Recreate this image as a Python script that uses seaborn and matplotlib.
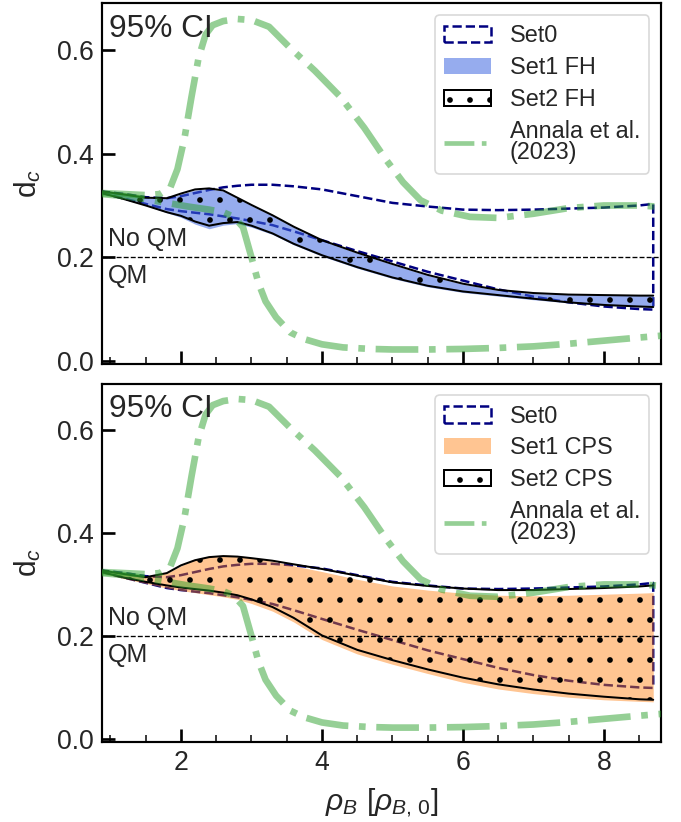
import numpy as np
import pandas as pd
import seaborn as sns
import matplotlib
matplotlib.use("Agg")
import matplotlib.pyplot as plt
from matplotlib.patches import Patch
from matplotlib.lines import Line2D
from matplotlib.ticker import MultipleLocator

# ---------------- data ----------------
rho = [0.88, 1.2, 1.5, 1.8, 2.0, 2.2, 2.4, 2.6, 2.8, 3.0, 3.3, 3.6, 4.0,
       4.5, 5.0, 5.5, 6.0, 6.5, 7.0, 7.5, 8.0, 8.5, 8.7]

# Set0 95% band
set0_lo = [0.324, 0.313, 0.303, 0.293, 0.289, 0.286, 0.283, 0.279, 0.275, 0.270, 0.262, 0.250, 0.233,
           0.212, 0.192, 0.172, 0.155, 0.138, 0.124, 0.113, 0.105, 0.100, 0.099]
set0_hi = [0.327, 0.322, 0.316, 0.314, 0.318, 0.324, 0.330, 0.335, 0.338, 0.340, 0.340, 0.337, 0.331,
           0.318, 0.305, 0.298, 0.292, 0.291, 0.292, 0.294, 0.296, 0.300, 0.303]

# FH bands
fh1_lo = [0.324, 0.312, 0.300, 0.286, 0.277, 0.264, 0.255, 0.262, 0.265, 0.258, 0.244, 0.224, 0.202,
          0.179, 0.159, 0.143, 0.132, 0.125, 0.118, 0.112, 0.107, 0.104, 0.103]
fh1_hi = [0.327, 0.321, 0.315, 0.313, 0.322, 0.330, 0.332, 0.328, 0.314, 0.300, 0.280, 0.258, 0.232,
          0.208, 0.186, 0.165, 0.148, 0.136, 0.130, 0.128, 0.127, 0.126, 0.126]
fh2_lo = [0.324, 0.312, 0.300, 0.287, 0.280, 0.269, 0.261, 0.266, 0.268, 0.261, 0.246, 0.226, 0.204,
          0.181, 0.161, 0.145, 0.134, 0.127, 0.120, 0.113, 0.108, 0.105, 0.104]
fh2_hi = [0.327, 0.321, 0.315, 0.314, 0.323, 0.331, 0.333, 0.329, 0.315, 0.301, 0.281, 0.259, 0.233,
          0.209, 0.187, 0.166, 0.149, 0.137, 0.131, 0.128, 0.127, 0.126, 0.126]

# CPS bands
cps1_lo = [0.322, 0.311, 0.302, 0.293, 0.288, 0.284, 0.280, 0.276, 0.271, 0.263, 0.248, 0.227, 0.193,
           0.165, 0.145, 0.127, 0.110, 0.097, 0.088, 0.081, 0.076, 0.073, 0.072]
cps1_hi = [0.329, 0.322, 0.316, 0.322, 0.336, 0.349, 0.355, 0.357, 0.356, 0.352, 0.345, 0.336, 0.325,
           0.310, 0.297, 0.289, 0.283, 0.279, 0.278, 0.279, 0.281, 0.283, 0.284]
cps2_lo = [0.324, 0.313, 0.305, 0.298, 0.294, 0.291, 0.288, 0.284, 0.279, 0.271, 0.256, 0.235, 0.201,
           0.173, 0.153, 0.135, 0.119, 0.106, 0.096, 0.088, 0.082, 0.077, 0.076]
cps2_hi = [0.327, 0.320, 0.314, 0.322, 0.337, 0.347, 0.353, 0.355, 0.354, 0.351, 0.346, 0.339, 0.330,
           0.317, 0.304, 0.297, 0.292, 0.289, 0.289, 0.291, 0.293, 0.296, 0.298]

# Annala et al. (2023) envelope
annala_hi_x = [0.88, 1.2, 1.5, 1.7, 1.85, 1.95, 2.05, 2.15, 2.25, 2.35, 2.45, 2.6, 2.8, 3.0, 3.25,
               3.55, 3.9, 4.26, 4.6, 4.9, 5.15, 5.4, 5.7, 6.1, 6.5, 7.0, 7.5, 8.0, 8.5, 8.85]
annala_hi = [0.324, 0.322, 0.320, 0.322, 0.335, 0.370, 0.430, 0.510, 0.585, 0.630, 0.648, 0.656, 0.660,
             0.658, 0.645, 0.604, 0.560, 0.510, 0.450, 0.390, 0.345, 0.310, 0.290, 0.278, 0.276,
             0.284, 0.295, 0.300, 0.300, 0.297]
annala_lo_x = [0.88, 1.2, 1.5, 1.8, 2.1, 2.4, 2.6, 2.75, 2.88, 3.0, 3.1, 3.2, 3.35, 3.55, 3.75, 4.0,
               4.3, 4.7, 5.0, 5.5, 6.0, 6.5, 7.0, 7.5, 8.0, 8.5, 8.85]
annala_lo = [0.322, 0.318, 0.312, 0.305, 0.298, 0.292, 0.287, 0.278, 0.258, 0.200, 0.150, 0.115, 0.084,
             0.055, 0.042, 0.032, 0.026, 0.023, 0.022, 0.022, 0.023, 0.025, 0.028, 0.033, 0.039,
             0.045, 0.049]

qm_threshold = 0.2
x_ticks = [2, 4, 6, 8]
y_ticks = [0.0, 0.2, 0.4, 0.6]

# ---------------- style ----------------
sns.set_theme(style="ticks")
plt.rcParams.update({
    "font.family": ["Liberation Sans", "DejaVu Sans"],
    "mathtext.fontset": "custom",
    "mathtext.rm": "Liberation Sans",
    "mathtext.it": "Liberation Sans:italic",
    "mathtext.bf": "Liberation Sans:bold",
    "xtick.direction": "in",
    "ytick.direction": "in",
    "axes.edgecolor": "black",
    "axes.linewidth": 1.3,
    "hatch.linewidth": 1.0,
    "text.color": "0.15",
    "xtick.color": "black",
    "ytick.color": "black",
    "xtick.labelcolor": "0.15",
    "ytick.labelcolor": "0.15",
})

C_SET0 = "navy"
C_FH = "royalblue"
C_CPS = "tab:orange"
C_ANN = "tab:green"

fig = plt.figure(figsize=(681 / 120, 822 / 120), dpi=120)
ax_top = fig.add_axes([0.1498, 0.5572, 0.8208, 0.4386])
ax_bot = fig.add_axes([0.1498, 0.0973, 0.8208, 0.4361])

panels = [
    (ax_top, fh1_lo, fh1_hi, fh2_lo, fh2_hi, C_FH, 0.55, "FH"),
    (ax_bot, cps1_lo, cps1_hi, cps2_lo, cps2_hi, C_CPS, 0.45, "CPS"),
]

for ax, s1_lo, s1_hi, s2_lo, s2_hi, col, alpha, tag in panels:
    # Set0: dashed outline of the band
    ax.fill_between(rho, set0_lo, set0_hi, facecolor="none", edgecolor=C_SET0,
                    linestyle="--", linewidth=1.5, zorder=2)
    # Set1: translucent filled band
    ax.fill_between(rho, s1_lo, s1_hi, facecolor=col, alpha=alpha, linewidth=0, zorder=3)
    # Set2: dotted hatch with solid black bounds
    ax.fill_between(rho, s2_lo, s2_hi, facecolor="none", edgecolor="black",
                    hatch=".", linewidth=0, zorder=4)
    sns.lineplot(x=rho, y=s2_hi, ax=ax, color="black", linewidth=1.2,
                 estimator=None, sort=False, zorder=4)
    sns.lineplot(x=rho, y=s2_lo, ax=ax, color="black", linewidth=1.2,
                 estimator=None, sort=False, zorder=4)
    # Annala et al. envelope
    for xs, ys in ((annala_hi_x, annala_hi), (annala_lo_x, annala_lo)):
        sns.lineplot(x=xs, y=ys, ax=ax, color=C_ANN, linewidth=4, alpha=0.5,
                     linestyle="-.", estimator=None, sort=False, zorder=5)

    ax.axhline(qm_threshold, color="black", linestyle="--", linewidth=0.8, zorder=6)
    ax.text(0.965, 0.222, "No QM", fontsize=15, ha="left", va="baseline", zorder=7)
    ax.text(0.965, 0.150, "QM", fontsize=15, ha="left", va="baseline", zorder=7)
    ax.text(0.012, 0.972, "95% CI", transform=ax.transAxes, fontsize=19,
            ha="left", va="top", zorder=7)

    ax.set_xlim(0.88, 8.81)
    ax.set_ylim(-0.006, 0.69)
    ax.set_xticks(x_ticks)
    ax.xaxis.set_minor_locator(MultipleLocator(0.5))
    ax.set_yticks(y_ticks)
    ax.set_yticklabels([f"{v:.1f}" for v in y_ticks])
    ax.tick_params(axis="both", which="major", length=8, width=1.6, labelsize=16, pad=5)
    ax.tick_params(axis="x", which="minor", length=4, width=0.9)
    ax.tick_params(top=False, right=False)
    for sp in ax.spines.values():
        sp.set_visible(True)
        sp.set_color("black")
    ax.set_ylabel("d$_c$", fontsize=18, labelpad=8)

    handles = [
        Patch(facecolor="white", edgecolor=C_SET0, linestyle="--", linewidth=1.5),
        Patch(facecolor=col, alpha=alpha, linewidth=0),
        Patch(facecolor="white", edgecolor="black", hatch=".", linewidth=1.2),
        Line2D([], [], color=C_ANN, alpha=0.5, linewidth=2.8, linestyle="-."),
    ]
    labels = ["Set0", f"Set1 {tag}", f"Set2 {tag}", "Annala et al.\n(2023)"]
    leg = ax.legend(handles, labels, loc="upper right", fontsize=14, frameon=True,
                    fancybox=True, edgecolor="0.85", framealpha=1.0,
                    labelspacing=0.38, handlelength=2.0, borderaxespad=0.5)
    leg.set_zorder(10)
    for t in leg.get_texts():
        t.set_linespacing(0.9)

ax_top.tick_params(axis="x", labelbottom=False)
ax_top.set_xlabel("")
ax_bot.set_xlabel(r"$\rho_B\ [\rho_{B,\,0}]$", fontsize=18, labelpad=6)

fig.savefig("out.png", dpi=120)
